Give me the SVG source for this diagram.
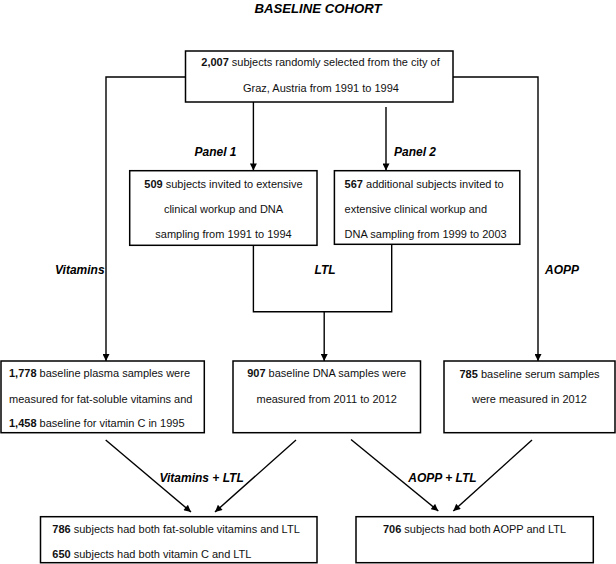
<svg xmlns="http://www.w3.org/2000/svg" width="616" height="564" viewBox="0 0 616 564">
<defs>
<marker id="ah" viewBox="0 0 10 10" refX="10" refY="5" markerWidth="8" markerHeight="7" markerUnits="userSpaceOnUse" orient="auto">
<path d="M0,0 L10,5 L0,10 z" fill="#000"/>
</marker>
<style>
.box{fill:#fff;stroke:#000;stroke-width:1.5}
.t{font-family:"Liberation Sans",Arial,sans-serif;font-size:11px;fill:#111}
.c{text-anchor:middle}
.b{font-weight:bold}
.lbl{font-family:"Liberation Sans",Arial,sans-serif;font-size:12px;font-weight:bold;font-style:italic;fill:#000}
.ln{fill:none;stroke:#000;stroke-width:1.4}
.ar{marker-end:url(#ah)}
</style>
</defs>
<rect width="616" height="564" fill="#fff"/>
<text class="lbl c" x="318" y="13" style="font-size:13.2px">BASELINE COHORT</text>

<g id="connectors">
<path class="ln ar" d="M185.5,77 H106 V361"/>
<path class="ln ar" d="M453,77 H538 V361"/>
<path class="ln ar" d="M253.4,102 V170.5"/>
<path class="ln ar" d="M386,107 V170.5"/>
<path class="ln" d="M253.4,245 V311.7 H391.7 V244.3"/>
<path class="ln ar" d="M324.2,311.7 V361"/>
<path class="ln ar" d="M105.7,440 L191,512"/>
<path class="ln ar" d="M296,440 L215,512"/>
<path class="ln ar" d="M351,439.5 L438.3,511"/>
<path class="ln ar" d="M532,440 L453.3,511"/>
<text class="lbl" x="194.5" y="155.5">Panel 1</text>
<text class="lbl" x="394" y="155.5">Panel 2</text>
<text class="lbl" x="55" y="273.6">Vitamins</text>
<text class="lbl c" x="325" y="273.6">LTL</text>
<text class="lbl" x="545" y="273.6">AOPP</text>
<text class="lbl c" x="201.6" y="481.6">Vitamins + LTL</text>
<text class="lbl c" x="442.5" y="481.6">AOPP + LTL</text>
</g>

<g id="baseline">
<rect class="box" x="185.5" y="51" width="267.5" height="51"/>
<text class="t c" x="320.5" y="66"><tspan class="b">2,007</tspan> subjects randomly selected from the city of</text>
<text class="t c" x="321" y="92">Graz, Austria from 1991 to 1994</text>
</g>

<g id="panel1">
<rect class="box" x="129.7" y="170.7" width="187.3" height="74.6"/>
<text class="t c" x="223.5" y="187.5"><tspan class="b">509</tspan> subjects invited to extensive</text>
<text class="t c" x="223.5" y="212.5">clinical workup and DNA</text>
<text class="t c" x="223.5" y="237.5">sampling from 1991 to 1994</text>
</g>

<g id="panel2">
<rect class="box" x="334.4" y="170.7" width="185.4" height="73.6"/>
<text class="t" x="344.6" y="187.5"><tspan class="b">567</tspan> additional subjects invited to</text>
<text class="t" x="344.6" y="212.5">extensive clinical workup and</text>
<text class="t" x="344.6" y="237.5">DNA sampling from 1999 to 2003</text>
</g>

<g id="vitamins">
<rect class="box" x="1" y="361" width="203.3" height="71.7"/>
<text class="t" x="9" y="376.5"><tspan class="b">1,778</tspan> baseline plasma samples were</text>
<text class="t" x="9" y="402.5">measured for fat-soluble vitamins and</text>
<text class="t" x="9" y="426.5"><tspan class="b">1,458</tspan> baseline for vitamin C in 1995</text>
</g>

<g id="ltl">
<rect class="box" x="233" y="361" width="187.5" height="71.7"/>
<text class="t c" x="326.7" y="377"><tspan class="b">907</tspan> baseline DNA samples were</text>
<text class="t c" x="326.7" y="403">measured from 2011 to 2012</text>
</g>

<g id="aopp">
<rect class="box" x="444" y="361" width="171" height="71.7"/>
<text class="t c" x="529.5" y="377.5"><tspan class="b">785</tspan> baseline serum samples</text>
<text class="t c" x="529.5" y="403">were measured in 2012</text>
</g>

<g id="vitamins-ltl">
<rect class="box" x="40.5" y="516.7" width="276.5" height="46"/>
<text class="t" x="52.3" y="532.5"><tspan class="b">786</tspan> subjects had both fat-soluble vitamins and LTL</text>
<text class="t" x="52.3" y="557.5"><tspan class="b">650</tspan> subjects had both vitamin C and LTL</text>
</g>

<g id="aopp-ltl">
<rect class="box" x="356" y="516.7" width="237.3" height="46"/>
<text class="t c" x="474.5" y="532.5"><tspan class="b">706</tspan> subjects had both AOPP and LTL</text>
</g>
</svg>
